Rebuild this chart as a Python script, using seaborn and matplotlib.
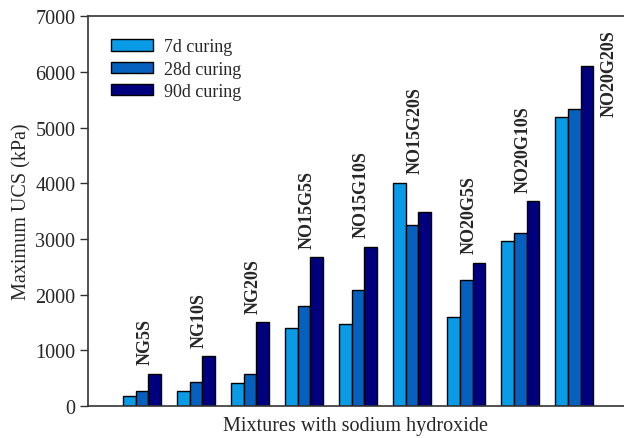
import matplotlib
matplotlib.use("Agg")
import matplotlib.pyplot as plt
import seaborn as sns
import pandas as pd
from matplotlib.patches import Patch

mixtures = ["NG5S", "NG10S", "NG20S", "NO15G5S", "NO15G10S",
            "NO15G20S", "NO20G5S", "NO20G10S", "NO20G20S"]
curing = ["7d curing", "28d curing", "90d curing"]
ucs_7d = [185, 260, 405, 1400, 1470, 4010, 1605, 2970, 5190]
ucs_28d = [275, 425, 570, 1790, 2090, 3255, 2270, 3105, 5330]
ucs_90d = [580, 890, 1500, 2670, 2860, 3490, 2575, 3680, 6100]
colors = ["#0A9BE6", "#0560BE", "#00007F"]

rows = []
for label, vals in zip(curing, [ucs_7d, ucs_28d, ucs_90d]):
    for m, v in zip(mixtures, vals):
        rows.append({"mix": m, "ucs": v, "curing": label})
df = pd.DataFrame(rows)

sns.set_style("ticks")
plt.rcParams["font.family"] = ["Liberation Serif", "DejaVu Serif"]

fig = plt.figure(figsize=(6.24, 4.39), dpi=100)
ax = fig.add_axes([0.141, 0.073, 0.859, 0.888])

sns.barplot(data=df, x="mix", y="ucs", hue="curing", order=mixtures,
            hue_order=curing, palette=colors, width=0.7, saturation=1,
            edgecolor="black", linewidth=1.0, legend=False, ax=ax)

ax.set_xlim(-1.0, 8.92)
ax.set_ylim(0, 7000)
ax.set_yticks(range(0, 7001, 1000))
ax.set_xticks([])
ax.tick_params(axis="y", labelsize=14.5, direction="out", length=6,
               width=1, color="#333333", pad=3)
for side in ["left", "bottom", "top"]:
    ax.spines[side].set_color("#333333")
    ax.spines[side].set_linewidth(1.2)
ax.spines["right"].set_visible(False)

ax.set_ylabel("Maximum UCS (kPa)", fontsize=14.5, labelpad=3)
ax.set_xlabel("Mixtures with sodium hydroxide", fontsize=14.5, labelpad=7)

# Mixture names above each group of bars
for i, m in enumerate(mixtures):
    top = max(ucs_7d[i], ucs_28d[i], ucs_90d[i])
    if i == len(mixtures) - 1:
        ax.text(i + 0.65, 5200, m, rotation=90, ha="center", va="bottom",
                fontsize=13, fontweight="bold")
    else:
        ax.text(i + 0.05, top + 170, m, rotation=90, ha="center",
                va="bottom", fontsize=13, fontweight="bold")

handles = [Patch(facecolor=c, edgecolor="black", linewidth=1.0) for c in colors]
ax.legend(handles, curing, loc="upper left", bbox_to_anchor=(0.013, 0.985),
          frameon=False, fontsize=13, handlelength=2.3, handleheight=0.6,
          handletextpad=0.6, labelspacing=0.3)

fig.savefig("out.png", dpi=100)
